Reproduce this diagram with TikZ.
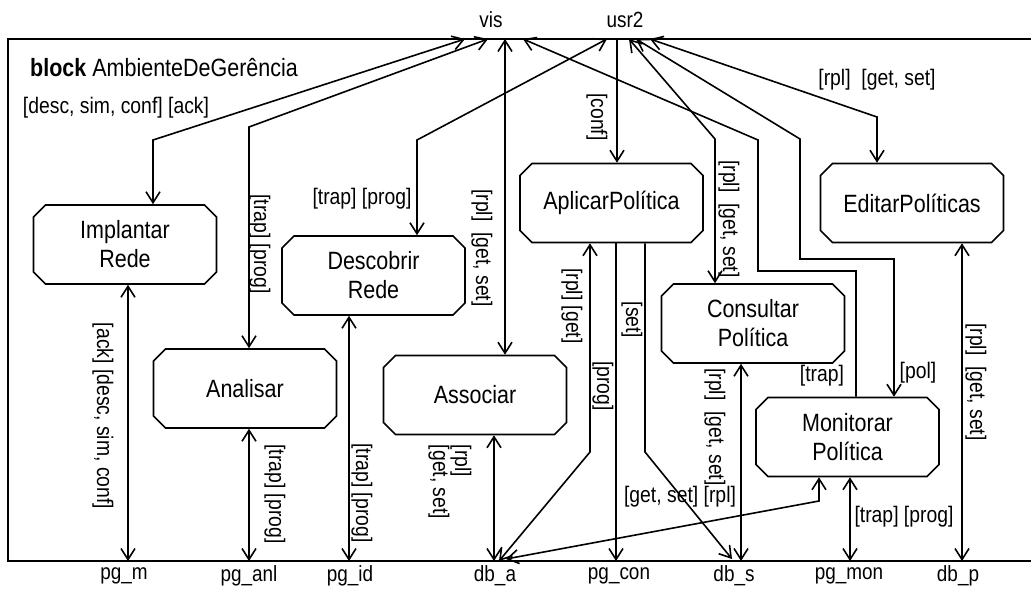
\documentclass[tikz,border=0pt]{standalone}
\usepackage{fontspec}
\setmainfont{Liberation Sans}[FakeStretch=0.86]
\usetikzlibrary{arrows.meta,shapes.misc,calc}

\begin{document}
\begin{tikzpicture}[x=1pt,y=-1pt,
  every node/.style={inner sep=0pt},
  proc/.style={chamfered rectangle, chamfered rectangle xsep=6pt,
    chamfered rectangle ysep=6pt, draw, line width=1.6pt,
    minimum width=183pt, minimum height=79pt, align=center,
    font=\fontsize{25}{29}\selectfont},
  lbl/.style={font=\fontsize{22.5}{22}\selectfont, align=left},
  vlbl/.style={lbl, rotate=-90},
  portlbl/.style={font=\fontsize{22}{22}\selectfont},
  wire/.style={line width=1.6pt},
  tip/.tip={Straight Barb[length=11pt,width=14pt]},
  both/.style={wire, tip-tip},
  fwd/.style={wire, -tip},
  bwd/.style={wire, tip-},
]
\useasboundingbox (0,0) rectangle (1031,589);

% block frame
\draw[wire] (1031,39) -- (8,39) -- (8,561) -- (1031,561);
\node[anchor=west, font=\fontsize{25}{29}\selectfont] (title) at (30,68)
  {\textbf{block} AmbienteDeGerência};

% ports on the frame
\node[portlbl] (vislbl) at (491,20) {vis};
\node[portlbl] (usrlbl) at (625,20) {usr2};
\coordinate (visImp) at (465,39);
\coordinate (visAna) at (488,39);
\coordinate (visAss) at (505,39);
\coordinate (visMon) at (523,39);
\coordinate (usrDes) at (607,39);
\coordinate (usrApl) at (617,39);
\coordinate (usrCon) at (629,39);
\coordinate (usrMon) at (636,39);
\coordinate (usrEdi) at (650,39);

\coordinate (pgm) at (128,561);
\coordinate (pganl) at (249,561);
\coordinate (pgid) at (349,561);
\coordinate (dba) at (494,561);
\coordinate (dbaB) at (499,561);
\coordinate (dbaC) at (506,559);
\coordinate (pgcon) at (616,561);
\coordinate (dbsA) at (732,559);
\coordinate (dbs) at (741,561);
\coordinate (pgmon) at (850,561);
\coordinate (dbp) at (962,561);

\node[portlbl] (pgmlbl) at (124,576) {pg\_m};
\node[portlbl] (pganllbl) at (249,576) {pg\_anl};
\node[portlbl] (pgidlbl) at (350,576) {pg\_id};
\node[portlbl] (dbalbl) at (495,576) {db\_a};
\node[portlbl] (pgconlbl) at (619,576) {pg\_con};
\node[portlbl] (dbslbl) at (734,576) {db\_s};
\node[portlbl] (pgmonlbl) at (849,576) {pg\_mon};
\node[portlbl] (dbplbl) at (958,576) {db\_p};

% processes
\node[proc] (imp) at (125,244.5) {Implantar\\Rede};
\node[proc] (ana) at (245,388.5) {Analisar};
\node[proc] (des) at (373.5,275.5) {Descobrir\\Rede};
\node[proc] (ass) at (475,395) {Associar};
\node[proc] (apl) at (611.5,203) {AplicarPolítica};
\node[proc] (con) at (753,323.5) {Consultar\\Política};
\node[proc] (edi) at (912,203) {EditarPolíticas};
\node[proc] (mon) at (847.5,437) {Monitorar\\Política};

% bends
\coordinate (cImp) at (153,140);
\coordinate (cAna) at (249,127);
\coordinate (cDes) at (417,140);
\coordinate (cCon) at (715,139);
\coordinate (cMonT) at (758,140);
\coordinate (cMonT2) at (758,271);
\coordinate (cMonT3) at (856,271);
\coordinate (cMonP) at (800,139);
\coordinate (cMonP2) at (800,259);
\coordinate (cMonP3) at (894,259);
\coordinate (cEdi) at (877,117);
\coordinate (cAplA) at (590,452);
\coordinate (cAplS) at (645,452);
\coordinate (cMonA) at (819,501);

% connectors towards vis and usr2
\draw[both] (visImp) -- (cImp) -- (cImp |- imp.north);
\draw[both] (visAna) -- (cAna) -- (cAna |- ana.north);
\draw[both] (usrDes) -- (cDes) -- (cDes |- des.north);
\draw[both] (visAss) -- (visAss |- ass.north);
\draw[fwd] (usrApl) -- (usrApl |- apl.north);
\draw[both] (usrCon) -- (cCon) -- (cCon |- con.north);
\draw[bwd] (visMon) -- (cMonT) -- (cMonT2) -- (cMonT3) -- (cMonT3 |- mon.north);
\draw[both] (usrMon) -- (cMonP) -- (cMonP2) -- (cMonP3) -- (cMonP3 |- mon.north);
\draw[both] (usrEdi) -- (cEdi) -- (cEdi |- edi.north);

% connectors towards the lower ports
\draw[both] (imp.south -| pgm) -- (pgm);
\draw[both] (ana.south -| pganl) -- (pganl);
\draw[both] (des.south -| pgid) -- (pgid);
\draw[both] (ass.south -| dba) -- (dba);
\draw[both] (apl.south -| cAplA) -- (cAplA) -- (dbaB);
\draw[fwd] (apl.south -| pgcon) -- (pgcon);
\draw[fwd] (apl.south -| cAplS) -- (cAplS) -- (dbsA);
\draw[both] (con.south -| dbs) -- (dbs);
\draw[both] (mon.south -| cMonA) -- (cMonA) -- (dbaC);
\draw[both] (mon.south -| pgmon) -- (pgmon);
\draw[both] (edi.south -| dbp) -- (dbp);

% signal lists
\node[lbl] (l1) at (116,108) {[desc, sim, conf] [ack]};
\node[vlbl] (l2) at (260,244) {[trap] [prog]};
\node[lbl] (l3) at (362,199) {[trap] [prog]};
\node[vlbl] (l4) at (482,248) {[rpl]\ \ [get, set]};
\node[vlbl] (l5) at (597,117) {[conf]};
\node[vlbl] (l6) at (729,219) {[rpl]\ \ [get, set]};
\node[lbl] (l7) at (877,80) {[rpl]\ \ [get, set]};
\node[lbl] (l8) at (822,376) {[trap]};
\node[lbl] (l9) at (918,373) {[pol]};
\node[vlbl] (l10) at (103,416) {[ack] [desc, sim, conf]};
\node[vlbl] (l11) at (275,494) {[trap] [prog]};
\node[vlbl] (l12) at (362,493) {[trap] [prog]};
\node[vlbl] (l13) at (450,482) {[rpl]\\{[get, set]}};
\node[vlbl] (l14) at (572,306) {[rpl] [get]};
\node[vlbl] (l15) at (603,386) {[prog]};
\node[vlbl] (l16) at (632,320) {[set]};
\node[vlbl] (l17) at (715,427) {[rpl]\ \ [get, set]};
\node[lbl] (l18) at (680,497) {[get, set] [rpl]};
\node[lbl] (l19) at (904,517) {[trap] [prog]};
\node[vlbl] (l20) at (976,382) {[rpl]\ \ [get, set]};
\end{tikzpicture}
\end{document}
